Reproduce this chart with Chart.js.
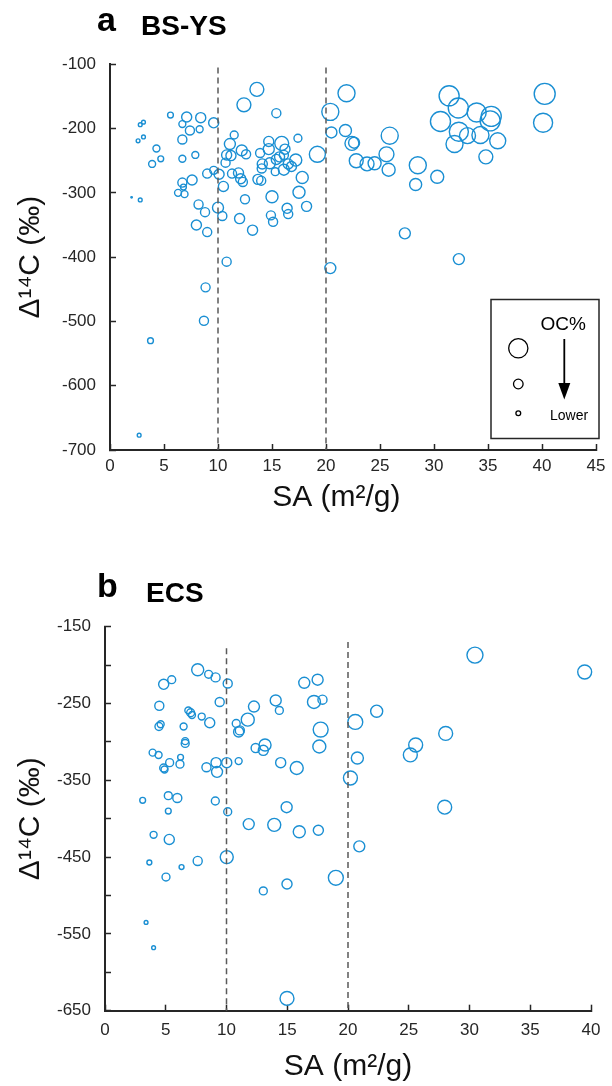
<!DOCTYPE html>
<html><head><meta charset="utf-8">
<script src="https://cdn.jsdelivr.net/npm/chart.js@4"></script>
<style>
html,body{margin:0;padding:0;background:#fff;}
#wrap{position:relative;width:612px;height:1086px;overflow:hidden;}
.cv{position:absolute;left:0;width:612px;height:543px;}
#ca{top:0}#cb{top:543px}
#ov{position:absolute;left:0;top:0;pointer-events:none;font-family:"Liberation Sans",Arial,Helvetica,sans-serif;}
</style></head><body>
<div id="wrap">
<div class="cv" id="ca"><canvas id="chartA" width="612" height="543"></canvas></div>
<div class="cv" id="cb"><canvas id="chartB" width="612" height="543"></canvas></div>
<svg id="ov" width="612" height="1086" xmlns="http://www.w3.org/2000/svg">
  <text x="97" y="31" font-size="34" font-weight="bold" fill="#000">a</text>
  <text x="141" y="35" font-size="28" font-weight="bold" fill="#000">BS-YS</text>
  <text x="97" y="597" font-size="34" font-weight="bold" fill="#000">b</text>
  <text x="146" y="602" font-size="28" font-weight="bold" fill="#000">ECS</text>
  <rect x="491" y="299.5" width="108" height="139" fill="#fff" stroke="#262626" stroke-width="1.5"/>
  <text x="540.5" y="330" font-size="19" fill="#000">OC%</text>
  <circle cx="518.3" cy="348.3" r="9.6" fill="none" stroke="#000" stroke-width="1.3"/>
  <circle cx="518.3" cy="384" r="4.8" fill="none" stroke="#000" stroke-width="1.3"/>
  <circle cx="518.3" cy="413.3" r="2.4" fill="none" stroke="#000" stroke-width="1.3"/>
  <line x1="564.3" y1="339" x2="564.3" y2="387" stroke="#000" stroke-width="1.8"/>
  <polygon points="558.3,383 570.3,383 564.3,399.5" fill="#000"/>
  <text x="550" y="420" font-size="14" fill="#000">Lower</text>
</svg>
</div>
<script>
// ---------- Panel a: BS-YS ----------
const saA = [2.0,2.8,2.8,3.1,2.6,3.1,4.3,4.7,3.9,5.6,7.1,8.4,6.7,7.4,8.3,9.6,6.7,6.7,7.9,6.7,
  6.8,7.6,6.3,6.9,8.2,8.8,8.0,9.0,9.0,9.6,10.1,10.0,10.4,10.5,11.1,11.5,10.8,11.2,10.7,11.3,
  11.9,12.1,12.3,12.2,12.6,12.5,12.0,13.2,12.4,13.6,15.4,13.9,14.7,14.7,15.9,16.2,15.7,16.1,17.4,14.1,
  14.05,14.8,15.4,16.1,16.5,16.8,17.2,17.8,15.3,13.7,14.0,15.0,17.5,16.4,16.5,14.9,15.1,18.2,19.2,20.4,
  20.5,21.9,21.8,22.4,22.6,22.8,23.8,24.5,25.6,25.9,25.8,28.5,28.3,30.3,27.3,32.3,31.4,32.25,30.6,33.95,
  35.3,35.2,32.3,33.1,34.3,31.9,35.9,34.8,40.25,40.1,20.4,10.8,8.85,8.7,3.75,2.7];
const d14cA = [-307,-311,-194,-190,-219,-213,-231,-247,-255,-179,-182,-183,-193,-203,-201,-191,-217,-247,-241,-284,
  -291,-280,-300,-302,-318,-330,-350,-361,-270,-265,-271,-323,-336,-290,-224,-210,-241,-242,-253,-270,
  -269,-278,-283,-234,-240,-310,-340,-358,-163,-139,-176,-238,-220,-232,-223,-232,-244,-241,-215,-255,
  -262,-254,-248,-264,-255,-259,-249,-276,-267,-279,-281,-306,-299,-324,-333,-335,-345,-321,-240,-174,
  -206,-145,-203,-223,-222,-250,-255,-254,-240,-211,-264,-257,-287,-275,-363,-403,-149,-168,-189,-175,
  -181,-188,-205,-211,-210,-224,-219,-244,-146,-191,-417,-407,-447,-499,-530,-677];
const ocA = [0.005,0.03,0.03,0.03,0.03,0.03,0.10,0.07,0.10,0.07,0.21,0.21,0.10,0.17,0.10,0.21,0.17,0.10,0.10,0.17,
  0.07,0.21,0.10,0.10,0.17,0.17,0.21,0.17,0.17,0.13,0.21,0.25,0.17,0.21,0.25,0.13,0.21,0.21,0.17,0.17,
  0.21,0.21,0.17,0.25,0.17,0.17,0.21,0.21,0.40,0.40,0.17,0.17,0.21,0.25,0.40,0.21,0.21,0.17,0.13,0.21,
  0.17,0.25,0.21,0.25,0.21,0.21,0.30,0.30,0.13,0.21,0.17,0.30,0.30,0.21,0.17,0.17,0.17,0.21,0.53,0.60,
  0.25,0.60,0.30,0.40,0.25,0.40,0.40,0.35,0.46,0.60,0.35,0.60,0.30,0.35,0.25,0.25,0.83,0.83,0.83,0.75,
  0.83,0.83,0.75,0.53,0.60,0.60,0.53,0.40,0.91,0.75,0.25,0.17,0.17,0.17,0.07,0.03];
const cutA = [10, 20];
const cutTopA = [-105, -105];
const xTicksA = [0,5,10,15,20,25,30,35,40,45];
const yTicksA = [-700,-600,-500,-400,-300,-200,-100];

// ---------- Panel b: ECS ----------
const saB = [7.63,8.53,9.1,10.1,4.83,5.49,4.47,9.44,6.86,7.05,7.16,7.96,8.62,4.44,4.58,6.47,6.6,6.6,3.92,4.41,
  6.22,5.32,6.17,4.83,4.9,8.35,9.14,9.22,10.02,11.0,10.8,11.75,11.0,11.1,12.26,14.05,14.35,16.4,12.4,13.17,
  13.03,14.46,15.78,3.1,5.21,5.95,9.08,5.21,10.1,14.95,11.83,13.93,15.99,4.0,5.29,10.02,7.63,3.65,6.3,5.02,
  14.98,13.03,3.38,4.0,14.98,17.5,17.2,17.9,17.75,17.64,20.6,22.36,20.77,20.2,28.04,25.57,25.13,27.96,30.45,39.48,
  17.56,20.93,19.0];
const d14cB = [-206,-212,-216,-224,-225,-219,-253,-248,-259,-262,-265,-267,-275,-280,-277,-280,-302,-299,-314,-317,
  -320,-327,-329,-334,-336,-333,-327,-339,-327,-325,-276,-271,-287,-285,-254,-246,-259,-223,-308,-304,
  -311,-327,-334,-376,-370,-373,-377,-390,-391,-385,-407,-408,-417,-421,-427,-450,-455,-457,-463,-476,
  -485,-494,-535,-568,-634,-219,-248,-245,-284,-306,-274,-260,-321,-347,-289,-304,-317,-385,-187,-209,
  -415,-436,-477];
const ocB = [0.30,0.13,0.17,0.17,0.21,0.13,0.17,0.17,0.10,0.13,0.10,0.10,0.21,0.13,0.10,0.10,0.13,0.10,0.10,0.10,
  0.07,0.13,0.13,0.13,0.10,0.17,0.21,0.25,0.21,0.10,0.13,0.35,0.21,0.17,0.25,0.25,0.13,0.25,0.17,0.30,
  0.21,0.21,0.35,0.07,0.13,0.17,0.13,0.07,0.13,0.25,0.25,0.35,0.30,0.10,0.21,0.35,0.17,0.05,0.05,0.13,
  0.21,0.13,0.03,0.03,0.40,0.25,0.35,0.17,0.46,0.35,0.46,0.30,0.30,0.40,0.40,0.40,0.40,0.40,0.53,0.40,
  0.21,0.25,0.46];
const cutB = [10, 20];
const cutTopB = [-178, -170];
const xTicksB = [0,5,10,15,20,25,30,35,40];
const yTicksB = [-650,-600,-550,-500,-450,-400,-350,-300,-250,-200,-150];
const yLabelsB = [-650,-550,-450,-350,-250,-150];

// ---------- common ----------
const FONT = '"Liberation Sans", Arial, Helvetica, sans-serif';
Chart.defaults.font.family = FONT;
const AX = '#262626';
const BLUE = '#1a8fd3';
const radiusOf = oc => 11 * Math.sqrt(oc);

function bubbles(sa, d, oc) {
  return sa.map((x, i) => ({ x: x, y: d[i], r: radiusOf(oc[i]) }));
}
function cutLines(cut, tops, yMin) {
  return cut.map((c, i) => ({
    type: 'line',
    data: [{ x: c, y: tops[i] }, { x: c, y: yMin }],
    borderColor: '#5a5a5a', borderWidth: 1.5, borderDash: [6, 4],
    pointRadius: 0, fill: false, showLine: true, order: 0, clip: false
  }));
}

function makeChart(id, cfg) {
  return new Chart(document.getElementById(id), {
    type: 'bubble',
    data: {
      datasets: [
        ...cutLines(cfg.cut, cfg.cutTop, cfg.yMin),
        { data: bubbles(cfg.sa, cfg.d, cfg.oc), backgroundColor: 'rgba(0,0,0,0)',
          borderColor: BLUE, borderWidth: 1.4, hoverBorderWidth: 1.4, order: 1, clip: false }
      ]
    },
    options: {
      responsive: false, animation: false,
      layout: { padding: { left: 0, right: cfg.padRight, top: cfg.padTop, bottom: 0 } },
      plugins: { legend: { display: false }, tooltip: { enabled: false } },
      events: [],
      scales: {
        x: {
          type: 'linear', min: cfg.xTicks[0], max: cfg.xTicks[cfg.xTicks.length - 1],
          afterBuildTicks: s => { s.ticks = cfg.xTicks.map(v => ({ value: v })); },
          afterFit: s => { s.height = cfg.xHeight; s.paddingLeft = 0; s.paddingRight = 0; },
          ticks: { autoSkip: false, maxRotation: 0, padding: cfg.xTickPad, color: AX, font: { size: 17 } },
          grid: { drawOnChartArea: false, drawTicks: true, tickLength: -6, tickColor: AX, tickWidth: 1.5 },
          border: { display: true, color: AX, width: 2 },
          title: { display: true, text: cfg.xTitle, color: '#111', font: { size: 30 },
                   padding: { top: 0, bottom: cfg.xTitlePad } }
        },
        y: {
          type: 'linear', min: cfg.yTicks[0], max: cfg.yTicks[cfg.yTicks.length - 1],
          afterBuildTicks: s => { s.ticks = cfg.yTicks.map(v => ({ value: v })); },
          afterFit: s => { s.width = cfg.yWidth; },
          ticks: { autoSkip: false, padding: 20, color: AX, font: { size: 17 },
                   callback: v => (cfg.yLabels.includes(v) ? String(v) : '') },
          grid: { drawOnChartArea: false, drawTicks: true, tickLength: -6, tickColor: AX, tickWidth: 1.5 },
          border: { display: true, color: AX, width: 2 },
          title: { display: true, text: 'Δ¹⁴C (‰)', color: '#111', font: { size: 30 },
                   padding: { top: 13, bottom: 0 } }
        }
      }
    }
  });
}

makeChart('chartA', {
  sa: saA, d: d14cA, oc: ocA, cut: cutA, cutTop: cutTopA, yMin: yTicksA[0],
  xTicks: xTicksA, yTicks: yTicksA, yLabels: yTicksA,
  padRight: 16, padTop: 64.3, xHeight: 93, yWidth: 110, xTickPad: 12, xTitlePad: 27,
  xTitle: 'SA (m²/g)    '
});
makeChart('chartB', {
  sa: saB, d: d14cB, oc: ocB, cut: cutB, cutTop: cutTopB, yMin: yTicksB[0],
  xTicks: xTicksB, yTicks: yTicksB, yLabels: yLabelsB,
  padRight: 21, padTop: 83.7, xHeight: 75.3, yWidth: 105, xTickPad: 15.5, xTitlePad: 1,
  xTitle: 'SA (m²/g)'
});
</script>
</body></html>
